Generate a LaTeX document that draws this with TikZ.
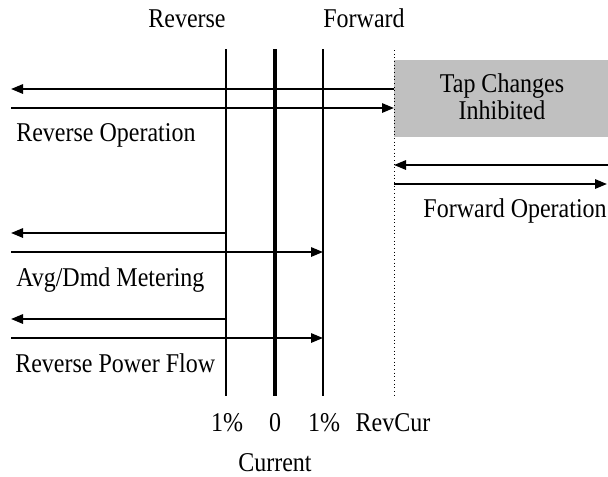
\documentclass[tikz,border=0pt]{standalone}
\usepackage{fontspec}
\usepackage{graphicx}
\setmainfont{Liberation Serif}
\usetikzlibrary{arrows.meta}
\definecolor{tapgray}{RGB}{192,192,192}
\newcommand{\tall}[1]{\scalebox{1}[1.13]{#1}}
\begin{document}
\begin{tikzpicture}[x=0.75pt,y=-0.75pt,
  lbl/.style={inner sep=0pt,font=\fontsize{18}{21}\selectfont},
  thinline/.style={line width=1.5pt},
  thickline/.style={line width=3pt},
  dotline/.style={line width=0.75pt,dotted},
  arr/.style={line width=1.5pt,-{Triangle[length=9pt,width=7pt]}}]
\useasboundingbox (0,0) rectangle (608,476);
% gray box
\node[fill=tapgray,inner sep=0pt,minimum width=214*0.75pt,minimum height=77*0.75pt,anchor=north west] (box) at (394,60) {};
\node[lbl,anchor=base] (tap1) at (502,92) {\tall{Tap Changes}};
\node[lbl,anchor=base] (tap2) at (502,119) {\tall{Inhibited}};
% vertical lines
\coordinate (n1t) at (226,49); \coordinate (n1b) at (226,396);
\coordinate (z0t) at (275,49); \coordinate (z0b) at (275,396);
\coordinate (p1t) at (323,49); \coordinate (p1b) at (323,396);
\coordinate (rct) at (394,50); \coordinate (rcb) at (394,396);
\draw[thinline] (n1t) -- (n1b);
\draw[thickline] (z0t) -- (z0b);
\draw[thinline] (p1t) -- (p1b);
\draw[dotline] (rct) -- (rcb);
% top labels
\node[lbl,anchor=base] (rev) at (187,27) {\tall{Reverse}};
\node[lbl,anchor=base] (fwd) at (364,27) {\tall{Forward}};
% reverse operation arrows
\coordinate (ro1a) at (394,89); \coordinate (ro1b) at (11,89);
\coordinate (ro2a) at (11,108); \coordinate (ro2b) at (394,108);
\draw[arr] (ro1a) -- (ro1b);
\draw[arr] (ro2a) -- (ro2b);
\node[lbl,anchor=base west] (revop) at (16,141) {\tall{Reverse Operation}};
% forward operation arrows
\coordinate (fo1a) at (608,165); \coordinate (fo1b) at (394,165);
\coordinate (fo2a) at (394,184); \coordinate (fo2b) at (607,184);
\draw[arr] (fo1a) -- (fo1b);
\draw[arr] (fo2a) -- (fo2b);
\node[lbl,anchor=base east] (fwdop) at (607,217) {\tall{Forward Operation}};
% avg/dmd metering
\coordinate (am1a) at (226,233); \coordinate (am1b) at (11,233);
\coordinate (am2a) at (11,252); \coordinate (am2b) at (323,252);
\draw[arr] (am1a) -- (am1b);
\draw[arr] (am2a) -- (am2b);
\node[lbl,anchor=base west] (avg) at (16,286) {\tall{Avg/Dmd Metering}};
% reverse power flow
\coordinate (rp1a) at (226,319); \coordinate (rp1b) at (11,319);
\coordinate (rp2a) at (11,338); \coordinate (rp2b) at (323,338);
\draw[arr] (rp1a) -- (rp1b);
\draw[arr] (rp2a) -- (rp2b);
\node[lbl,anchor=base west] (rpf) at (15,372) {\tall{Reverse Power Flow}};
% bottom labels
\node[lbl,anchor=base] (m1) at (227,431) {\tall{1\%}};
\node[lbl,anchor=base] (zero) at (275,431) {\tall{0}};
\node[lbl,anchor=base] (p1) at (324,431) {\tall{1\%}};
\node[lbl,anchor=base] (revcur) at (393,431) {\tall{RevCur}};
\node[lbl,anchor=base] (cur) at (275,471) {\tall{Current}};
\end{tikzpicture}
\end{document}
